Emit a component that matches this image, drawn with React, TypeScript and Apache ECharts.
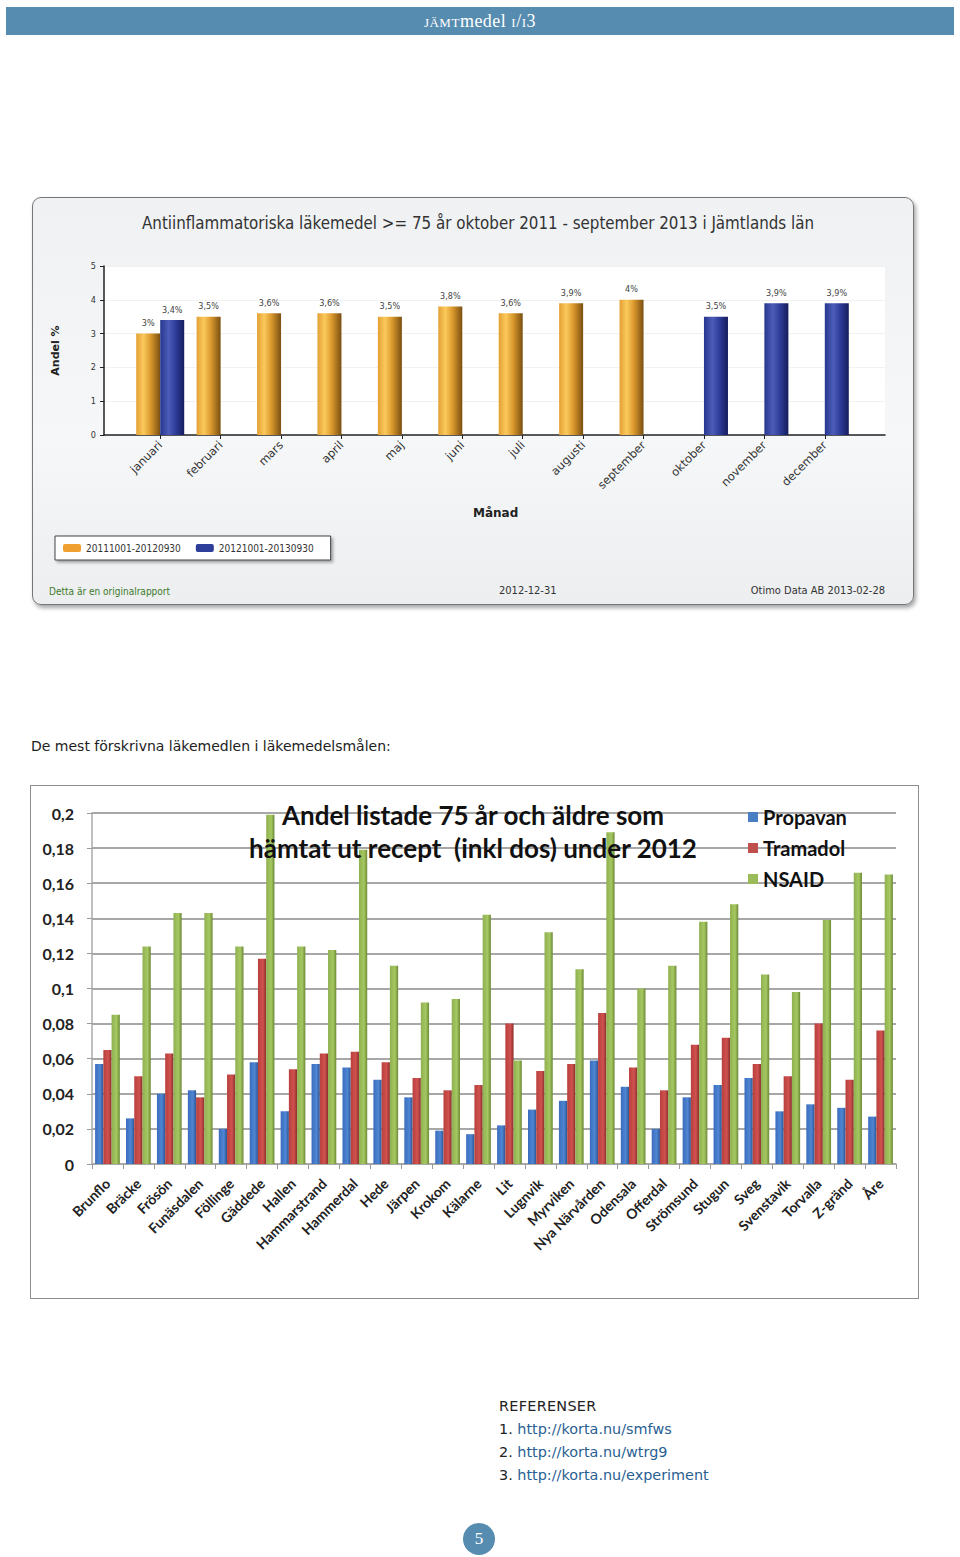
import React, { useEffect, useRef } from "react";
import * as echarts from "echarts";

// ---------- Chart 1 data ----------
const months = ["januari", "februari", "mars", "april", "maj", "juni", "juli", "augusti", "september", "oktober", "november", "december"];
const period1Name = "20111001-20120930";
const period2Name = "20121001-20130930";
const period1 = [3, 3.5, 3.6, 3.6, 3.5, 3.8, 3.6, 3.9, 4, null, null, null];
const period2 = [3.4, null, null, null, null, null, null, null, null, 3.5, 3.9, 3.9];

// ---------- Chart 2 data ----------
const places = ["Brunflo", "Bräcke", "Frösön", "Funäsdalen", "Föllinge", "Gäddede", "Hallen", "Hammarstrand", "Hammerdal", "Hede", "Järpen", "Krokom", "Kälarne", "Lit", "Lugnvik", "Myrviken", "Nya Närvården", "Odensala", "Offerdal", "Strömsund", "Stugun", "Sveg", "Svenstavik", "Torvalla", "Z-gränd", "Åre"];
const propavan = [0.057, 0.026, 0.040, 0.042, 0.020, 0.058, 0.030, 0.057, 0.055, 0.048, 0.038, 0.019, 0.017, 0.022, 0.031, 0.036, 0.059, 0.044, 0.020, 0.038, 0.045, 0.049, 0.030, 0.034, 0.032, 0.027];
const tramadol = [0.065, 0.050, 0.063, 0.038, 0.051, 0.117, 0.054, 0.063, 0.064, 0.058, 0.049, 0.042, 0.045, 0.080, 0.053, 0.057, 0.086, 0.055, 0.042, 0.068, 0.072, 0.057, 0.050, 0.080, 0.048, 0.076];
const nsaid = [0.085, 0.124, 0.143, 0.143, 0.124, 0.199, 0.124, 0.122, 0.179, 0.113, 0.092, 0.094, 0.142, 0.059, 0.132, 0.111, 0.189, 0.100, 0.113, 0.138, 0.148, 0.108, 0.098, 0.139, 0.166, 0.165];

const grad = (stops: [number, string][]) =>
  new echarts.graphic.LinearGradient(0, 0, 1, 0, stops.map(([offset, color]) => ({ offset, color })));

function Chart1() {
  const ref = useRef<HTMLDivElement>(null);
  useEffect(() => {
    const chart = echarts.init(ref.current!, null, { renderer: "svg" });
    const font = "'DejaVu Sans Condensed', 'DejaVu Sans', sans-serif";
    const wide = "'DejaVu Sans', sans-serif";
    const orange = grad([[0, "#e2a034"], [0.3, "#fcc95c"], [0.6, "#d9982c"], [1, "#7a4f12"]]);
    const blue = grad([[0, "#27378f"], [0.35, "#4d5cb8"], [0.65, "#2e3c98"], [1, "#151c5c"]]);
    const labelFmt = (p: any) => String(p.value).replace(".", ",") + "%";
    chart.setOption({
      animation: false,
      textStyle: { fontFamily: font },
      title: {
        text: "Antiinflammatoriska läkemedel >= 75 år oktober 2011 - september 2013 i Jämtlands län",
        left: 440,
        top: 11,
        textAlign: "center",
        textStyle: { fontSize: 16.8, fontWeight: "normal", color: "#333", fontFamily: font },
      },
      legend: {
        left: 22,
        top: 338,
        orient: "horizontal",
        itemWidth: 18,
        itemHeight: 8,
        itemGap: 15,
        padding: [7, 17, 7, 8],
        borderColor: "#444",
        borderWidth: 1,
        backgroundColor: "#fff",
        shadowBlur: 3,
        shadowOffsetX: 2,
        shadowOffsetY: 2,
        shadowColor: "rgba(0,0,0,0.35)",
        data: [
          { name: period1Name, itemStyle: { color: "#f0a030" } },
          { name: period2Name, itemStyle: { color: "#2d3d9a" } },
        ],
        textStyle: { fontSize: 10, color: "#333", fontFamily: font },
      },
      grid: [
        { left: 71, top: 68, width: 781, height: 169, show: true, backgroundColor: "#ffffff", borderWidth: 0 },
        { left: 97, top: 68, width: 725, height: 169 },
      ],
      xAxis: [
        {
          gridIndex: 0, type: "value", min: 0, max: 1,
          axisLine: { show: true, lineStyle: { color: "#222", width: 1.5 } },
          axisTick: { show: false }, axisLabel: { show: false }, splitLine: { show: false },
        },
        {
          gridIndex: 1, type: "category", data: months,
          axisLine: { show: false },
          axisTick: { show: true, alignWithLabel: true, length: 4, lineStyle: { color: "#222" } },
          axisLabel: { rotate: 45, fontSize: 11.5, color: "#333", margin: 8, fontFamily: wide },
        },
      ],
      yAxis: [
        {
          gridIndex: 0, type: "value", min: 0, max: 5, interval: 1,
          name: "Andel %", nameLocation: "middle", nameGap: 43, nameRotate: 90,
          nameTextStyle: { fontSize: 11, fontWeight: "bold", color: "#222", fontFamily: wide },
          axisLine: { show: true, lineStyle: { color: "#222", width: 1.5 } },
          axisTick: { show: true, length: 4, lineStyle: { color: "#222" } },
          axisLabel: { fontSize: 9, color: "#333", margin: 8 },
          splitLine: { show: true, lineStyle: { color: "#f1f1f1" } },
        },
        { gridIndex: 1, type: "value", min: 0, max: 5, show: false },
      ],
      series: [
        {
          name: period1Name, type: "bar", xAxisIndex: 1, yAxisIndex: 1, data: period1,
          barWidth: 24, barGap: "0%",
          itemStyle: { color: orange },
          label: { show: true, position: "top", fontSize: 9, color: "#444", distance: 6, formatter: labelFmt },
        },
        {
          name: period2Name, type: "bar", xAxisIndex: 1, yAxisIndex: 1, data: period2,
          barWidth: 24, barGap: "0%",
          itemStyle: { color: blue },
          label: { show: true, position: "top", fontSize: 9, color: "#444", distance: 6, formatter: labelFmt },
        },
      ],
      graphic: [
        { type: "text", left: 440, top: 309, style: { text: "Månad", fill: "#222", font: "bold 12px 'DejaVu Sans', sans-serif" } },
        { type: "text", left: 16, top: 388, style: { text: "Detta är en originalrapport", fontSize: 10, fill: "#3d7a2a", fontFamily: font } },
        { type: "text", left: 466, top: 387, style: { text: "2012-12-31", fontSize: 11, fill: "#333", fontFamily: font } },
        { type: "text", right: 30, top: 387, style: { text: "Otimo Data AB 2013-02-28", fontSize: 11, fill: "#333", fontFamily: font } },
      ],
    });
    return () => chart.dispose();
  }, []);
  return <div ref={ref} style={{ position: "absolute", left: 0, top: 0, width: 882, height: 408 }} />;
}

function Chart2() {
  const ref = useRef<HTMLDivElement>(null);
  useEffect(() => {
    const chart = echarts.init(ref.current!, null, { renderer: "svg" });
    const font = "Lato, 'Open Sans', sans-serif";
    const mk = (name: string, data: number[], c: [number, string][]) => ({
      name, type: "bar", data, barCategoryGap: "20%", barGap: "0%",
      itemStyle: { color: grad(c) },
    });
    chart.setOption({
      animation: false,
      textStyle: { fontFamily: font },
      title: {
        text: "Andel listade 75 år och äldre som\nhämtat ut recept  (inkl dos) under 2012",
        left: 438,
        top: 8,
        textAlign: "center",
        textStyle: { fontSize: 26, fontWeight: "bold", color: "#111", lineHeight: 33, fontFamily: font },
      },
      legend: {
        orient: "vertical",
        left: 713,
        top: 17,
        itemWidth: 10,
        itemHeight: 10,
        itemGap: 11,
        icon: "rect",
        data: [
          { name: "Propavan", itemStyle: { color: "#4a7ec4" } },
          { name: "Tramadol", itemStyle: { color: "#c0504d" } },
          { name: "NSAID", itemStyle: { color: "#9bbb59" } },
        ],
        textStyle: { fontSize: 20, fontWeight: "bold", color: "#111", fontFamily: font, lineHeight: 20 },
      },
      grid: { left: 62, top: 28, width: 804, height: 351 },
      xAxis: {
        type: "category", data: places,
        axisLine: { show: true, lineStyle: { color: "#aaa", width: 1.5 } },
        axisTick: { show: true, length: 5, lineStyle: { color: "#999" } },
        axisLabel: { rotate: 45, fontSize: 14, fontWeight: "bold", color: "#222", margin: 17, interval: 0, fontFamily: font },
      },
      yAxis: {
        type: "value", min: 0, max: 0.2, interval: 0.02,
        axisLine: { show: true, lineStyle: { color: "#aaa", width: 1.5 } },
        axisTick: { show: true, length: 5, lineStyle: { color: "#999" } },
        axisLabel: {
          fontSize: 16, fontWeight: "bold", color: "#222", margin: 18, fontFamily: font,
          formatter: (v: number) => (v === 0 ? "0" : String(+v.toFixed(2)).replace(".", ",")),
        },
        splitLine: { show: true, lineStyle: { color: "#8a8a8a", width: 1.5 } },
      },
      series: [
        mk("Propavan", propavan, [[0, "#3a6cbf"], [0.6, "#4f86d2"], [1, "#2c5596"]]),
        mk("Tramadol", tramadol, [[0, "#b8403d"], [0.6, "#d0524f"], [1, "#8a2e2b"]]),
        mk("NSAID", nsaid, [[0, "#8fb050"], [0.6, "#a6c862"], [1, "#6c8a36"]]),
      ],
    });
    return () => chart.dispose();
  }, []);
  return <div ref={ref} style={{ position: "absolute", left: 0, top: 0, width: 889, height: 514 }} />;
}

export default function App() {
  const blueHead = "#568cb0";
  return (
    <div style={{ position: "absolute", left: 0, top: 0, width: 960, height: 1557, background: "#fff", overflow: "hidden" }}>
      {/* header */}
      <div style={{ position: "absolute", left: 6, top: 7, width: 948, height: 28, background: blueHead, color: "#fff", textAlign: "center", lineHeight: "28px", fontFamily: "'Liberation Serif', 'DejaVu Serif', serif", fontSize: 18, letterSpacing: 0.5 }}>
        <span style={{ fontVariant: "small-caps", fontSize: 19 }}>jämt</span>medel <span style={{ fontVariant: "small-caps" }}>i</span>/<span style={{ fontVariant: "small-caps" }}>i</span>3
      </div>

      {/* chart 1 frame */}
      <div style={{ position: "absolute", left: 32, top: 197, width: 882, height: 408, borderRadius: 9, border: "1.5px solid #74777a", boxSizing: "border-box", background: "linear-gradient(180deg, #eff1f3 0%, #f6f7f8 60%, #eceef0 100%)", boxShadow: "2px 3px 4px rgba(0,0,0,0.35)" }}>
        <Chart1 />
      </div>

      {/* intro text */}
      <div style={{ position: "absolute", left: 31, top: 738, fontFamily: "'DejaVu Sans', Verdana, sans-serif", fontSize: 14, color: "#222", whiteSpace: "nowrap" }}>
        De mest förskrivna läkemedlen i läkemedelsmålen:
      </div>

      {/* chart 2 frame */}
      <div style={{ position: "absolute", left: 30, top: 785, width: 889, height: 514, background: "#fff" }}>
        <Chart2 />
        <div style={{ position: "absolute", left: 0, top: 0, width: 889, height: 514, border: "1.5px solid #8c8c8c", boxSizing: "border-box", pointerEvents: "none" }} />
      </div>

      {/* references */}
      <div style={{ position: "absolute", left: 499, top: 1395, fontFamily: "'DejaVu Sans', Verdana, sans-serif", fontSize: 14.4, lineHeight: "23px", color: "#222", whiteSpace: "nowrap" }}>
        <div style={{ letterSpacing: 0.3 }}>REFERENSER</div>
        <div>1. <span style={{ color: "#2a5f93" }}>http://korta.nu/smfws</span></div>
        <div>2. <span style={{ color: "#2a5f93" }}>http://korta.nu/wtrg9</span></div>
        <div>3. <span style={{ color: "#2a5f93" }}>http://korta.nu/experiment</span></div>
      </div>

      {/* page number */}
      <div style={{ position: "absolute", left: 463, top: 1523, width: 32, height: 32, borderRadius: 16, background: blueHead, color: "#fff", textAlign: "center", lineHeight: "32px", fontFamily: "'Liberation Serif', serif", fontSize: 17 }}>
        5
      </div>
    </div>
  );
}
